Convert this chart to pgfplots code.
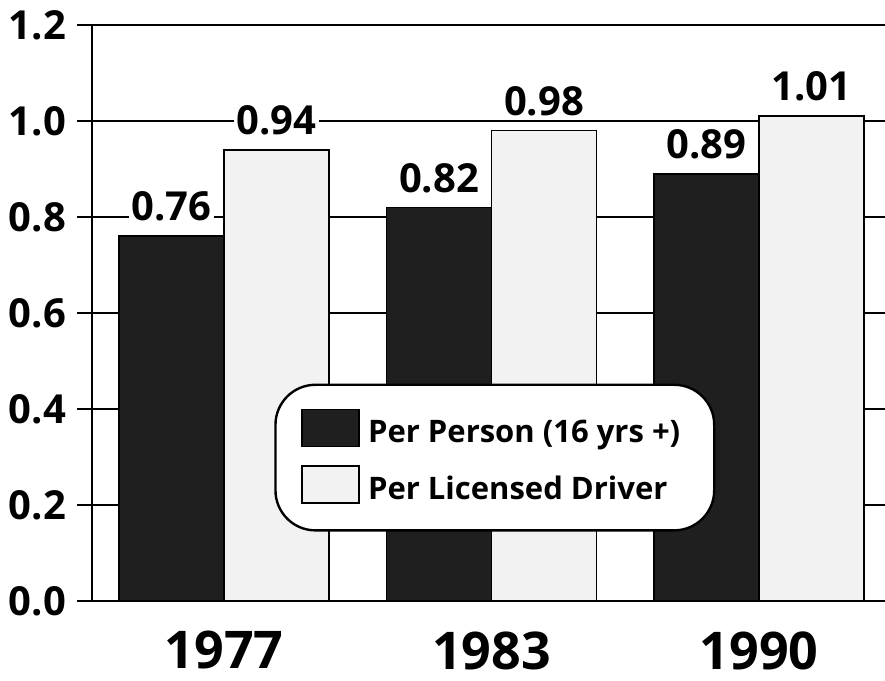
\documentclass[border=0pt]{standalone}
\usepackage{fontspec}
\setmainfont{Open Sans}
\usepackage{pgfplots}
\pgfplotsset{compat=1.18}
\begin{document}
\begin{tikzpicture}
\useasboundingbox (0,0) rectangle (442.5pt,340.5pt);
\begin{axis}[
  at={(46pt,40pt)}, anchor=south west,
  scale only axis, width=396.5pt, height=288pt,
  xmin=-0.4935, xmax=2.471, ymin=0, ymax=1.2,
  axis x line*=bottom, axis y line*=left,
  axis line style={line width=1.2pt, -},
  xtick={0,1,2}, xticklabels={1977,1983,1990},
  xtick style={draw=none},
  xticklabel style={font=\fontsize{26}{30}\selectfont\bfseries, inner sep=0pt, yshift=-7.5pt},
  ytick={0,0.2,0.4,0.6,0.8,1.0,1.2},
  yticklabels={0.0,0.2,0.4,0.6,0.8,1.0,1.2},
  ytick pos=left, tick align=outside, major tick length=7.5pt,
  ytick style={line width=1.2pt, black},
  yticklabel style={font=\fontsize{20}{22}\selectfont\bfseries, xshift=-2pt},
  ymajorgrids, grid style={line width=1.2pt, black},
  ybar, bar width=0.3925,
  point meta=explicit symbolic,
  nodes near coords,
  every node near coord/.append style={font=\fontsize{20}{22}\selectfont\bfseries, fill=white, inner sep=1.5pt, anchor=south, yshift=5.5pt},
  legend style={at={(rel axis cs:0.508,0.249)}, anchor=center, draw=black, line width=1.2pt, rounded corners=20pt, inner xsep=13pt, inner ysep=12pt, font=\fontsize{15.5}{18}\selectfont\bfseries, row sep=8pt, /tikz/every even column/.append style={column sep=8pt}},
  legend cell align=left,
  legend image code/.code={\draw[#1, sharp corners, line width=0.8pt] (0pt,-7pt) rectangle (28.5pt,11.5pt);},
  legend style={nodes={inner xsep=4pt}},
]
\addplot[fill=black!88, draw=black, line width=0.8pt, bar shift=-0.19625]
  coordinates {(0,0.76)[0.76] (1,0.82)[0.82] (2,0.89)[0.89]};
\addplot[fill=gray!10, draw=black, line width=0.8pt, bar shift=0.19625]
  coordinates {(0,0.94)[0.94] (1,0.98)[0.98] (2,1.01)[1.01]};
\legend{Per Person (16 yrs +), Per Licensed Driver}
\end{axis}
\end{tikzpicture}
\end{document}
